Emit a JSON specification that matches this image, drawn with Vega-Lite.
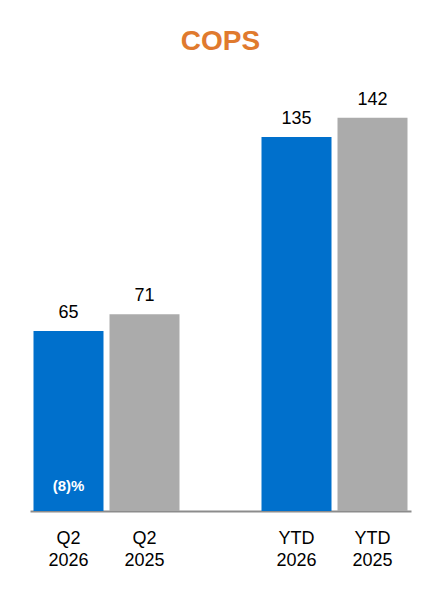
{
  "$schema": "https://vega.github.io/schema/vega-lite/v6.json",
  "autosize": {"type": "none"},
  "padding": {"left": 30, "top": 80, "right": 29, "bottom": 89},
  "width": 381,
  "height": 431,
  "config": {"view": {"stroke": null}, "font": "Liberation Sans"},
  "title": {
    "text": "COPS",
    "font": "Liberation Sans",
    "fontSize": 28,
    "fontWeight": "bold",
    "color": "#E07A2E",
    "anchor": "middle",
    "offset": 24
  },
  "data": {
    "values": [
      {"period": "Q2 2026", "year": "2026", "value": 65, "note": "(8)%"},
      {"period": "Q2 2025", "year": "2025", "value": 71},
      {"period": "YTD 2026", "year": "2026", "value": 135},
      {"period": "YTD 2025", "year": "2025", "value": 142}
    ]
  },
  "encoding": {
    "x": {
      "field": "period",
      "type": "nominal",
      "sort": null,
      "scale": {
        "domain": ["Q2 2026", "Q2 2025", "gap", "YTD 2026", "YTD 2025"],
        "paddingInner": 0.079,
        "paddingOuter": 0.046
      },
      "axis": {
        "title": null,
        "labelAngle": 0,
        "labelExpr": "datum.value == 'gap' ? '' : split(datum.value, ' ')",
        "labelFont": "Liberation Sans",
        "labelFontSize": 18,
        "labelColor": "#000000",
        "labelLineHeight": 22,
        "labelPadding": 18,
        "ticks": false,
        "grid": false,
        "domainColor": "#8C8C8C",
        "domainWidth": 2
      }
    },
    "y": {
      "field": "value",
      "type": "quantitative",
      "scale": {"domain": [0, 155.6], "nice": false},
      "axis": null
    }
  },
  "layer": [
    {
      "mark": {"type": "bar", "clip": false},
      "encoding": {
        "color": {
          "field": "year",
          "type": "nominal",
          "scale": {"domain": ["2026", "2025"], "range": ["#0070CC", "#ABABAB"]},
          "legend": null
        }
      }
    },
    {
      "mark": {
        "type": "text",
        "baseline": "alphabetic",
        "dy": -13,
        "fontSize": 18,
        "color": "#000000"
      },
      "encoding": {"text": {"field": "value", "type": "quantitative"}}
    },
    {
      "transform": [{"filter": "isValid(datum.note)"}],
      "mark": {
        "type": "text",
        "baseline": "alphabetic",
        "dy": -20,
        "fontSize": 15,
        "fontWeight": "bold",
        "color": "#FFFFFF"
      },
      "encoding": {
        "y": {"datum": 0},
        "text": {"field": "note", "type": "nominal"}
      }
    }
  ]
}
